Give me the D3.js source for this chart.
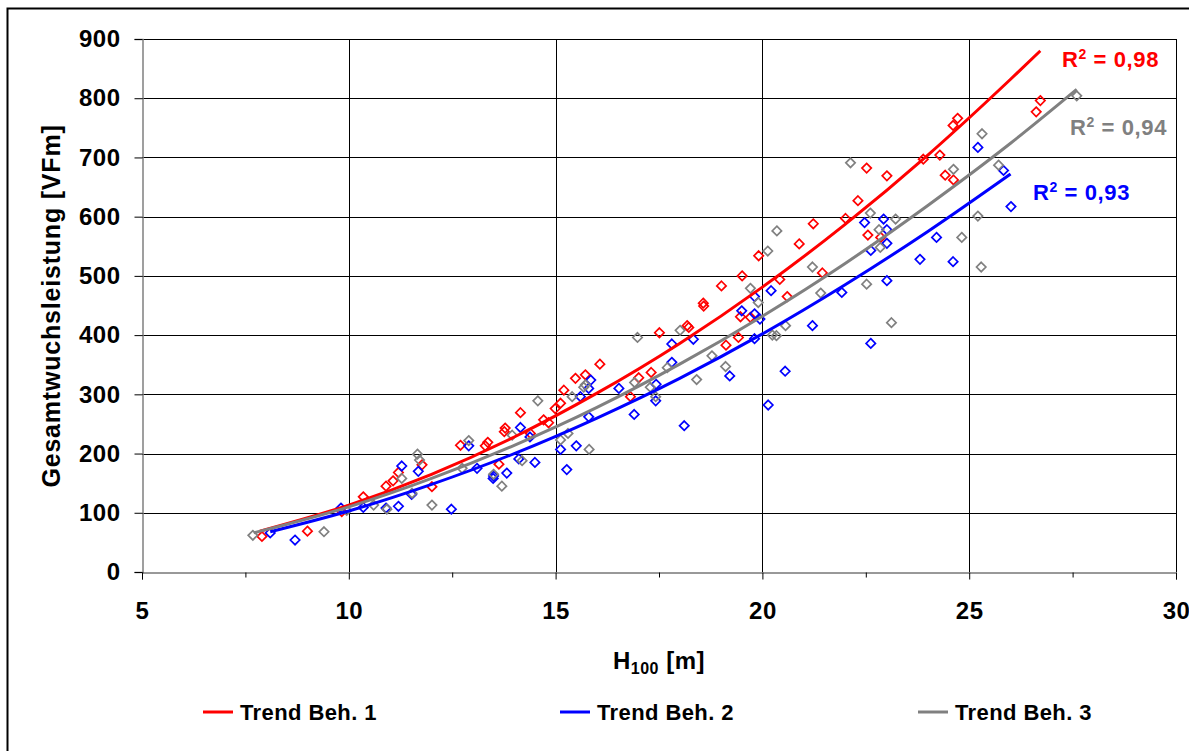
<!DOCTYPE html>
<html>
<head>
<meta charset="utf-8">
<script src="https://cdn.jsdelivr.net/npm/d3@7"></script>
<style>
  body { margin: 0; background: #fff; }
  svg text { font-family: "Liberation Sans", Arial, sans-serif; font-weight: bold; }
</style>
</head>
<body>
<svg id="chart" width="1189" height="751"></svg>
<script>
// Gesamtwuchsleistung over H100, three treatments with power trendlines

// measured points [H100, GWL] per treatment
const beh1Points = [
  [7.9, 60], [9.0, 69], [9.83, 102], [10.35, 127], [10.9, 145], [11.07, 154], [11.2, 168],
  [11.77, 181], [12.01, 144], [12.7, 214], [13.3, 213], [13.36, 219], [13.63, 182],
  [13.76, 237], [13.78, 243], [14.15, 269], [14.39, 234], [14.71, 257], [14.83, 252],
  [14.99, 276], [15.12, 285], [15.2, 307], [15.48, 327], [15.72, 333], [16.07, 351],
  [16.81, 296], [17.01, 328], [17.31, 337], [17.51, 404], [18.18, 416], [18.22, 413],
  [18.57, 454], [18.58, 449], [19.01, 483], [19.12, 383], [19.42, 396], [19.47, 431],
  [19.71, 430], [19.51, 500], [19.91, 534], [20.42, 494], [20.6, 465], [20.89, 554],
  [21.23, 588], [21.45, 505], [22.01, 597], [22.31, 627], [22.52, 682], [22.55, 569],
  [22.86, 565], [23.01, 669], [23.89, 697], [24.29, 704], [24.42, 670], [24.62, 662],
  [24.61, 754], [24.72, 766], [26.62, 777], [26.72, 796]
];
const beh2Points = [
  [8.1, 66], [8.7, 54], [9.81, 108], [10.35, 109], [10.9, 108], [11.2, 111], [11.28, 179],
  [11.52, 131], [11.68, 170], [12.48, 106], [12.9, 213], [13.1, 175], [13.49, 158],
  [13.5, 162], [13.82, 167], [14.11, 191], [14.15, 244], [14.38, 228], [14.5, 185],
  [15.12, 207], [15.27, 173], [15.5, 213], [15.6, 296], [15.8, 262], [15.8, 310],
  [15.85, 324], [16.53, 310], [16.9, 266], [17.42, 289], [17.43, 317], [17.81, 354],
  [17.81, 385], [18.11, 247], [18.33, 393], [19.21, 331], [19.5, 441], [19.81, 436],
  [19.94, 427], [19.81, 394], [19.81, 465], [20.14, 282], [20.21, 475], [20.55, 339],
  [21.21, 416], [21.92, 472], [22.47, 590], [22.62, 386], [22.62, 543], [22.93, 596],
  [23.01, 578], [23.01, 555], [23.01, 492], [23.81, 528], [24.21, 565], [24.61, 524],
  [25.21, 717], [25.83, 678], [26.01, 617]
];
const beh3Points = [
  [7.68, 62], [9.4, 68], [9.95, 104], [10.6, 113], [10.92, 106], [11.28, 158], [11.53, 133],
  [11.66, 199], [11.71, 189], [12.01, 113], [12.74, 175], [12.9, 222], [13.5, 165],
  [13.7, 145], [13.95, 231], [14.19, 188], [14.57, 289], [15.12, 223], [15.3, 234],
  [15.4, 296], [15.68, 312], [15.72, 316], [15.81, 207], [16.91, 320], [16.98, 396],
  [17.29, 312], [17.42, 296], [17.7, 345], [18.01, 408], [18.41, 325], [18.78, 365],
  [19.11, 347], [19.71, 479], [19.9, 455], [20.13, 542], [20.24, 400], [20.34, 399],
  [20.35, 576], [20.56, 416], [21.21, 515], [21.41, 471], [22.13, 691], [22.52, 486],
  [22.61, 606], [22.82, 578], [22.85, 548], [23.12, 421], [23.22, 596], [24.62, 680],
  [24.82, 565], [25.21, 601], [25.29, 515], [25.31, 740], [25.71, 687], [27.6, 804]
];

// trend curves
const trend1 = [[7.85, 69], [10, 113], [12, 165], [14, 228], [16, 302], [18, 386], [20, 481], [22, 587], [24, 704], [26, 832], [26.72, 880]];
const trend2 = [[8.1, 68], [10, 103], [12, 148], [14, 200], [16, 260], [18, 327], [20, 402], [22, 485], [24, 575], [26, 672]];
const trend3 = [[7.7, 66], [10, 110], [12, 158], [14, 214], [16, 278], [18, 351], [20, 432], [22, 521], [24, 619], [26, 724], [27.6, 815]];

const seriesNames = ["Trend Beh. 1", "Trend Beh. 2", "Trend Beh. 3"];
const seriesColors = ["#ff0000", "#0000ff", "#808080"];
const r2Labels = ["0,98", "0,93", "0,94"];

const xTicks = [5, 10, 15, 20, 25, 30];
const xMinorTicks = [7.5, 12.5, 17.5, 22.5, 27.5];
const yTicks = [0, 100, 200, 300, 400, 500, 600, 700, 800, 900];

var svg = d3.select("#chart");

// outer frame (only left/top visible, picture is cropped)
svg.append("rect")
    .attr("x", 7.5).attr("y", 8.5)
    .attr("width", 1200).attr("height", 760)
    .attr("fill", "none").attr("stroke", "#000").attr("stroke-width", 2);

var x = d3.scaleLinear().domain([5, 30]).range([142, 1176]);
var y = d3.scaleLinear().domain([0, 900]).range([572, 39]);

// gridlines
svg.append("g").selectAll("line")
    .data(yTicks.slice(1))
    .enter().append("line")
    .attr("x1", x(5)).attr("x2", x(30))
    .attr("y1", d => Math.round(y(d)) + 0.5).attr("y2", d => Math.round(y(d)) + 0.5)
    .attr("stroke", "#000").attr("stroke-width", 1);

svg.append("g").selectAll("line")
    .data(xTicks.slice(1))
    .enter().append("line")
    .attr("x1", d => Math.round(x(d)) + 0.5).attr("x2", d => Math.round(x(d)) + 0.5)
    .attr("y1", y(0)).attr("y2", y(900))
    .attr("stroke", "#000").attr("stroke-width", 1);

// axes
var yAxis = svg.append("g")
    .attr("transform", "translate(" + (Math.round(x(5)) + 0.5) + ",0)")
    .call(d3.axisLeft(y).tickValues(yTicks).tickSize(8).tickPadding(14));
yAxis.select(".domain").attr("stroke", "#808080").attr("stroke-width", 1.5);
yAxis.selectAll(".tick line").attr("stroke", "#000");
yAxis.selectAll(".tick text")
    .attr("font-size", "24px").attr("fill", "#000")
    .style("letter-spacing", "0.5px")
    .style("font-family", "'Liberation Sans', Arial, sans-serif").style("font-weight", "bold");

var xAxis = svg.append("g")
    .attr("transform", "translate(0," + (Math.round(y(0)) + 0.5) + ")")
    .call(d3.axisBottom(x).tickValues(xTicks).tickSize(7).tickPadding(22));
xAxis.select(".domain").attr("stroke", "#333").attr("stroke-width", 1);
xAxis.selectAll(".tick line").attr("stroke", "#000");
xAxis.selectAll(".tick text")
    .attr("font-size", "24px").attr("fill", "#000")
    .style("letter-spacing", "0.5px")
    .style("font-family", "'Liberation Sans', Arial, sans-serif").style("font-weight", "bold");

svg.append("g")
    .attr("transform", "translate(0," + (Math.round(y(0)) + 0.5) + ")")
    .call(d3.axisBottom(x).tickValues(xMinorTicks).tickSize(5).tickFormat(""))
    .call(g => g.select(".domain").remove());

// axis titles
svg.append("text")
    .attr("transform", "translate(60,306) rotate(-90)")
    .attr("text-anchor", "middle")
    .attr("font-size", "25px")
    .style("letter-spacing", "0.8px")
    .text("Gesamtwuchsleistung [VFm]");

var xTitle = svg.append("text")
    .attr("x", 659).attr("y", 669)
    .attr("text-anchor", "middle")
    .attr("font-size", "24px")
    .style("letter-spacing", "0.5px");
xTitle.append("tspan").text("H");
xTitle.append("tspan").attr("font-size", "16px").attr("dy", 5).text("100");
xTitle.append("tspan").attr("dy", -5).text(" [m]");

// scatter markers
var allPoints = [beh1Points, beh2Points, beh3Points];
var diamond = d3.symbol().type(d3.symbolDiamond2).size(56);

allPoints.forEach(function(pts, i) {
    svg.append("g").selectAll("path")
        .data(pts)
        .enter().append("path")
        .attr("d", diamond)
        .attr("transform", d => "translate(" + x(d[0]) + "," + y(d[1]) + ")")
        .attr("fill", "none")
        .attr("stroke", seriesColors[i])
        .attr("stroke-width", 1.7);
});

// trendlines
var line = d3.line()
    .x(d => x(d[0]))
    .y(d => y(d[1]))
    .curve(d3.curveMonotoneX);

[trend1, trend2, trend3].forEach(function(t, i) {
    svg.append("path")
        .datum(t)
        .attr("d", line)
        .attr("fill", "none")
        .attr("stroke", seriesColors[i])
        .attr("stroke-width", 3);
});

// R² labels
var r2Pos = [[1062, 67], [1033, 200], [1070, 135]];
r2Labels.forEach(function(lbl, i) {
    var t = svg.append("text")
        .attr("x", r2Pos[i][0]).attr("y", r2Pos[i][1])
        .attr("font-size", "22px")
        .style("letter-spacing", "0.6px")
        .attr("fill", seriesColors[i]);
    t.append("tspan").text("R");
    t.append("tspan").attr("font-size", "14px").attr("dy", -8).text("2");
    t.append("tspan").attr("dy", 8).text(" = " + lbl);
});

// legend
var legendX = [203, 560, 918];
var legend = svg.append("g").selectAll("g")
    .data(seriesNames)
    .enter().append("g")
    .attr("transform", (d, i) => "translate(" + legendX[i] + ",712)");

legend.append("line")
    .attr("x1", 0).attr("x2", 30)
    .attr("stroke", (d, i) => seriesColors[i])
    .attr("stroke-width", 3);

legend.append("text")
    .attr("x", 37).attr("y", 8)
    .attr("font-size", "22px")
    .style("letter-spacing", "0.4px")
    .text(d => d);
</script>
</body>
</html>
